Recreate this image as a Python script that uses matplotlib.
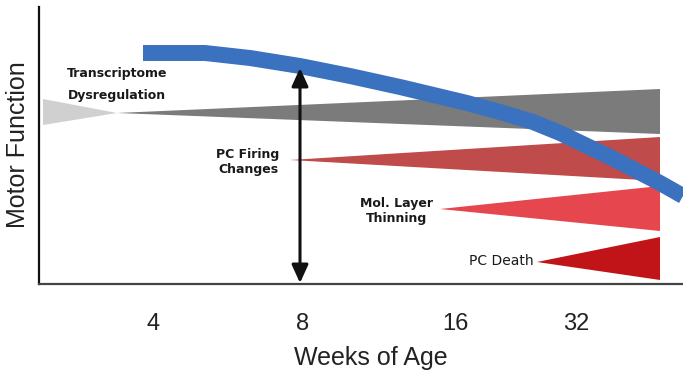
import matplotlib.pyplot as plt
from matplotlib.patches import Polygon

# x axis: weeks of age (positions along the axis, 0..644)
week_labels = ["4", "8", "16", "32"]
week_pos = [114, 264, 416, 537]

# motor function curve (blue)
motor_x = [104, 166, 211, 261, 311, 361, 428, 461, 494, 521, 571, 621, 644]
motor_y = [231, 231, 226, 218, 208, 197, 181, 172, 162, 151, 127, 101, 88]

# wedges: tip (x, y) and right edge (x, top, bottom)
light_gray = dict(tip=(78, 171), left=(4, 185, 159))
dark_gray = dict(tip=(78, 171), right=(621, 195, 150))
firing = dict(tip=(251, 124), right=(621, 147, 103))
thinning = dict(tip=(401, 75), right=(621, 98, 53))
death = dict(tip=(498, 22), right=(621, 47, 4))

# arrow at 8 weeks
arrow_x = 261
arrow_top = 216
arrow_bottom = 1

fig = plt.figure(figsize=(6.83, 3.77), dpi=100)
ax = fig.add_axes([39/683, 93/377, 644/683, 277/377])
ax.set_xlim(0, 644)
ax.set_ylim(0, 277)


def wedge(d, color):
    tx, ty = d["tip"]
    if "right" in d:
        ex, top, bot = d["right"]
    else:
        ex, top, bot = d["left"]
    ax.add_patch(Polygon([(tx, ty), (ex, top), (ex, bot)], closed=True,
                         facecolor=color, edgecolor="none"))


wedge(light_gray, "#d0d0d0")
wedge(dark_gray, "#7b7b7b")
wedge(firing, "#bf4b4a")
wedge(thinning, "#e6464e")
wedge(death, "#c01419")

ax.plot(motor_x, motor_y, color="#3b72bf", lw=11.5, solid_capstyle="butt",
        solid_joinstyle="round")

ax.annotate("", xy=(arrow_x, arrow_top), xytext=(arrow_x, arrow_bottom),
            arrowprops=dict(arrowstyle="<|-|>,head_length=1.1,head_width=0.5",
                            color="#111111", lw=2.2, shrinkA=0, shrinkB=0))

bold = dict(fontsize=9, fontweight="bold", color="#1a1a1a",
            ha="center", va="center", family="DejaVu Sans")
ax.text(78, 211, "Transcriptome", **bold)
ax.text(78, 189, "Dysregulation", **bold)
ax.text(209, 122, "PC Firing\nChanges", linespacing=1.2, **bold)
ax.text(358, 73, "Mol. Layer\nThinning", linespacing=1.2, **bold)
ax.text(462, 23, "PC Death", fontsize=10, color="#1a1a1a", ha="center",
        va="center", family="DejaVu Sans")

ax.set_xticks(week_pos)
ax.set_xticklabels(week_labels, fontsize=17, family="Liberation Sans",
                   color="#222222")
ax.tick_params(axis="x", length=0, pad=21)
ax.set_yticks([])

for s in ["top", "right"]:
    ax.spines[s].set_visible(False)
ax.spines["left"].set_color("#111111")
ax.spines["left"].set_linewidth(1.6)
ax.spines["bottom"].set_color("#444444")
ax.spines["bottom"].set_linewidth(1.6)

fig.text(18/683, 1 - 145/377, "Motor Function", rotation=90, fontsize=18,
         family="Liberation Sans", color="#222222", ha="center", va="center")
fig.text(371/683, 1 - 358/377, "Weeks of Age", fontsize=18,
         family="Liberation Sans", color="#222222", ha="center", va="center")

fig.savefig("out.png", dpi=100)
